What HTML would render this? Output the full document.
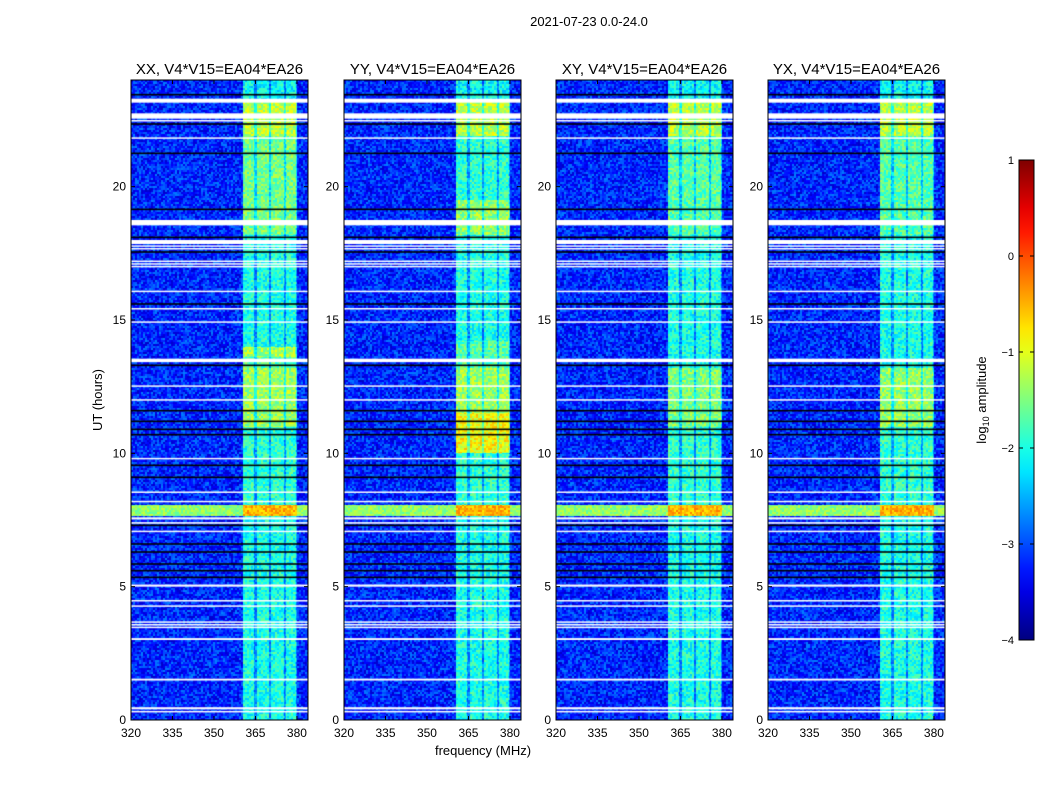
<!DOCTYPE html>
<html><head><meta charset="utf-8">
<style>
body{margin:0;background:#fff;width:1050px;height:800px;overflow:hidden;font-family:"Liberation Sans",sans-serif;}
#wrap{position:relative;width:1050px;height:800px;}
canvas{position:absolute;}
svg{position:absolute;left:0;top:0;}
</style></head><body>
<div id="wrap">
<svg id="ax" width="1050" height="800"></svg>
</div>
<script>
// ---- data ----
const panelTitles = ["XX, V4*V15=EA04*EA26","YY, V4*V15=EA04*EA26","XY, V4*V15=EA04*EA26","YX, V4*V15=EA04*EA26"];
const xTicks = [320,335,350,365,380];
const yTicks = [0,5,10,15,20];
const cbTicks = [1,0,-1,-2,-3,-4];
const freqRange = [320,384];
const timeRange = [0,24];
const bgLevel = -3.2;
// band sub-columns [f0,f1] (MHz)
const bandCols = [[360.6,364.6],[365.6,369.8],[370.7,375.2],[376.2,379.8]];
const bandSpan = [360.6,380.0];
// flagged (white) time ranges, hours
const whiteFlags = [[23.15,23.3],[22.55,22.75],[22.45,22.5],[21.8,21.85],[18.55,18.75],[17.85,18.0],[17.75,17.8],[17.65,17.7],[17.2,17.23],[17.1,17.13],[17.0,17.03],[16.05,16.1],[15.4,15.45],[14.9,14.95],[13.42,13.55],[12.5,12.55],[11.98,12.03],[9.78,9.83],[8.52,8.57],[8.17,8.22],[7.52,7.6],[7.36,7.42],[7.05,7.1],[5.0,5.08],[4.45,4.5],[4.25,4.3],[3.65,3.7],[3.55,3.6],[3.45,3.5],[3.0,3.07],[1.48,1.55],[0.4,0.48],[0.3,0.34]];
// black (zero) lines, hours
const blackLines = [23.45,22.35,21.25,19.15,18.1,17.55,15.6,13.3,11.6,11.2,10.9,10.7,9.55,9.1,7.3,6.6,6.3,5.85,5.6,5.35];
// broadband RFI period [t0,t1, offLevel, inBandLevel]
const rfiBand = [7.65,8.05,-1.4,-0.5];
// per-panel band level segments [t0,t1,level]
const bandLevels = [
 [[0,7.6,-2.0],[8.1,11.0,-1.9],[11.0,13.2,-1.35],[13.2,13.6,-1.7],[13.6,14.0,-1.3],[14.0,18.2,-2.0],[18.2,21.9,-1.55],[21.9,23.2,-1.2],[23.2,24,-2.1]],
 [[0,7.6,-2.0],[8.1,10.0,-1.9],[10.0,11.5,-0.9],[11.5,13.2,-1.35],[13.2,14.2,-1.7],[14.2,18.2,-2.0],[18.2,19.5,-1.4],[19.5,21.9,-1.9],[21.9,23.2,-1.2],[23.2,24,-2.1]],
 [[0,7.6,-2.0],[8.1,11.0,-1.9],[11.0,13.2,-1.5],[13.2,18.2,-2.0],[18.2,21.9,-1.7],[21.9,23.2,-1.2],[23.2,24,-2.1]],
 [[0,7.6,-2.0],[8.1,11.0,-1.9],[11.0,13.2,-1.4],[13.2,18.2,-2.0],[18.2,21.9,-1.7],[21.9,23.2,-1.2],[23.2,24,-2.1]]
];
const panelX = [131,344,556,768];
const panelW = 177, panelTop = 80, panelH = 640;

// ---- helpers ----
function xScale(f,px){return px + (f-freqRange[0])/(freqRange[1]-freqRange[0])*panelW;}
function yScale(t){return panelTop + panelH - (t-timeRange[0])/(timeRange[1]-timeRange[0])*panelH;}
function jet(v){
  let t=(v+4)/5; t=Math.max(0,Math.min(1,t));
  const c=x=>Math.max(0,Math.min(1,x));
  return [c(1.5-Math.abs(4*t-3))*255,c(1.5-Math.abs(4*t-2))*255,c(1.5-Math.abs(4*t-1))*255];
}
function hash(a,b,s){let h=(a*374761393+b*668265263+s*2147483647)|0;h=(h^(h>>>13))*1274126177|0;h=h^(h>>>16);return ((h>>>0)%10000)/10000;}
const SVGNS="http://www.w3.org/2000/svg";
const svg=document.getElementById('ax');
function mk(tag,attrs,txt){const e=document.createElementNS(SVGNS,tag);for(const k in attrs)e.setAttribute(k,attrs[k]);if(txt!==undefined)e.textContent=txt;svg.appendChild(e);return e;}

// ---- panels ----
const wrap=document.getElementById('wrap');
panelX.forEach((px,pi)=>{
  const cv=document.createElement('canvas');
  cv.width=panelW;cv.height=panelH;
  cv.style.left=px+'px';cv.style.top=panelTop+'px';
  
  
  wrap.insertBefore(cv,svg);
  const ctx=cv.getContext('2d');
  const img=ctx.createImageData(panelW,panelH);
  for(let r=0;r<panelH;r++){
    const t=timeRange[1]-(r+0.5)/panelH*(timeRange[1]-timeRange[0]);
    let bl=-2.0;
    for(const s of bandLevels[pi]) if(t>=s[0]&&t<s[1]) bl=s[2];
    const rfi = t>=rfiBand[0]&&t<rfiBand[1];
    for(let c=0;c<panelW;c++){
      const f=freqRange[0]+(c+0.5)/panelW*(freqRange[1]-freqRange[0]);
      const n=hash(c>>1,r>>1,pi)-0.5;
      let v;
      let inBand=false, inCol=false;
      if(f>=bandSpan[0]&&f<=bandSpan[1]){inBand=true;for(const bc of bandCols) if(f>=bc[0]&&f<=bc[1]) inCol=true;}
      if(rfi){ v = inBand? rfiBand[3]+n*0.6 : rfiBand[2]+n*0.6; }
      else if(inBand){ v = inCol? bl+n*0.8 : bl-0.7+n*0.7; }
      else v = bgLevel+n*0.9;
      const [R,G,B]=jet(v);
      const i=(r*panelW+c)*4;img.data[i]=R;img.data[i+1]=G;img.data[i+2]=B;img.data[i+3]=255;
    }
  }
  ctx.putImageData(img,0,0);
  whiteFlags.forEach(w=>{
    const y0=yScale(w[1])-panelTop,y1=yScale(w[0])-panelTop;
    ctx.fillStyle='#fff';ctx.fillRect(0,y0,panelW,Math.max(1.5,y1-y0));
  });
  blackLines.forEach(b=>{
    ctx.fillStyle='#000';ctx.fillRect(0,yScale(b)-panelTop-0.8,panelW,1.6);
  });
  const fr=mk('rect',{x:px,y:panelTop,width:panelW,height:panelH,fill:'none',stroke:'#000','stroke-width':1});
  
  const tt=mk('text',{x:px+panelW/2,y:74,'text-anchor':'middle','font-size':15},panelTitles[pi]);
  
  xTicks.forEach(v=>{
    const x=xScale(v,px);
    mk('line',{x1:x,x2:x,y1:panelTop+panelH,y2:panelTop+panelH-4,stroke:'#000'});
    mk('line',{x1:x,x2:x,y1:panelTop,y2:panelTop+4,stroke:'#000'});
    const l=mk('text',{x:x,y:737,'text-anchor':'middle','font-size':12},v);
    
  });
  yTicks.forEach(v=>{
    const y=yScale(v);
    mk('line',{x1:px,x2:px+4,y1:y,y2:y,stroke:'#000'});
    mk('line',{x1:px+panelW,x2:px+panelW-4,y1:y,y2:y,stroke:'#000'});
    const l=mk('text',{x:px-5,y:y+4,'text-anchor':'end','font-size':12},v);
    
  });
});
const st=mk('text',{x:589,y:26,'text-anchor':'middle','font-size':13},'2021-07-23 0.0-24.0');

const yl=mk('text',{x:102,y:400,'text-anchor':'middle','font-size':13,transform:'rotate(-90 102 400)'},'UT (hours)');

const xl=mk('text',{x:483,y:755,'text-anchor':'middle','font-size':13},'frequency (MHz)');


// ---- colorbar ----
const cbX=1019,cbY=160,cbW=15,cbH=480;
const defs=mk('defs',{});
const g=document.createElementNS(SVGNS,'linearGradient');
g.setAttribute('id','jetg');g.setAttribute('x1','0');g.setAttribute('y1','1');g.setAttribute('x2','0');g.setAttribute('y2','0');
defs.appendChild(g);
for(let i=0;i<=20;i++){const v=-4+i*0.25;const [R,G,B]=jet(v);const s=document.createElementNS(SVGNS,'stop');s.setAttribute('offset',(i/20));s.setAttribute('stop-color',`rgb(${R|0},${G|0},${B|0})`);g.appendChild(s);}
const cb=mk('rect',{x:cbX,y:cbY,width:cbW,height:cbH,fill:'url(#jetg)',stroke:'#000','stroke-width':1});

cbTicks.forEach(v=>{
  const y=cbY+(1-v)/5*cbH;
  mk('line',{x1:cbX,x2:cbX+4,y1:y,y2:y,stroke:'#000'});
  mk('line',{x1:cbX+cbW,x2:cbX+cbW-4,y1:y,y2:y,stroke:'#000'});
  const l=mk('text',{x:cbX-5,y:y+4,'text-anchor':'end','font-size':11},String(v).replace('-','\u2212'));
  
});
const cl=mk('text',{x:986,y:400,'text-anchor':'middle','font-size':13,transform:'rotate(-90 986 400)'});

cl.innerHTML='log<tspan font-size="9" dy="3">10</tspan><tspan dy="-3"> amplitude</tspan>';
</script>
</body></html>
